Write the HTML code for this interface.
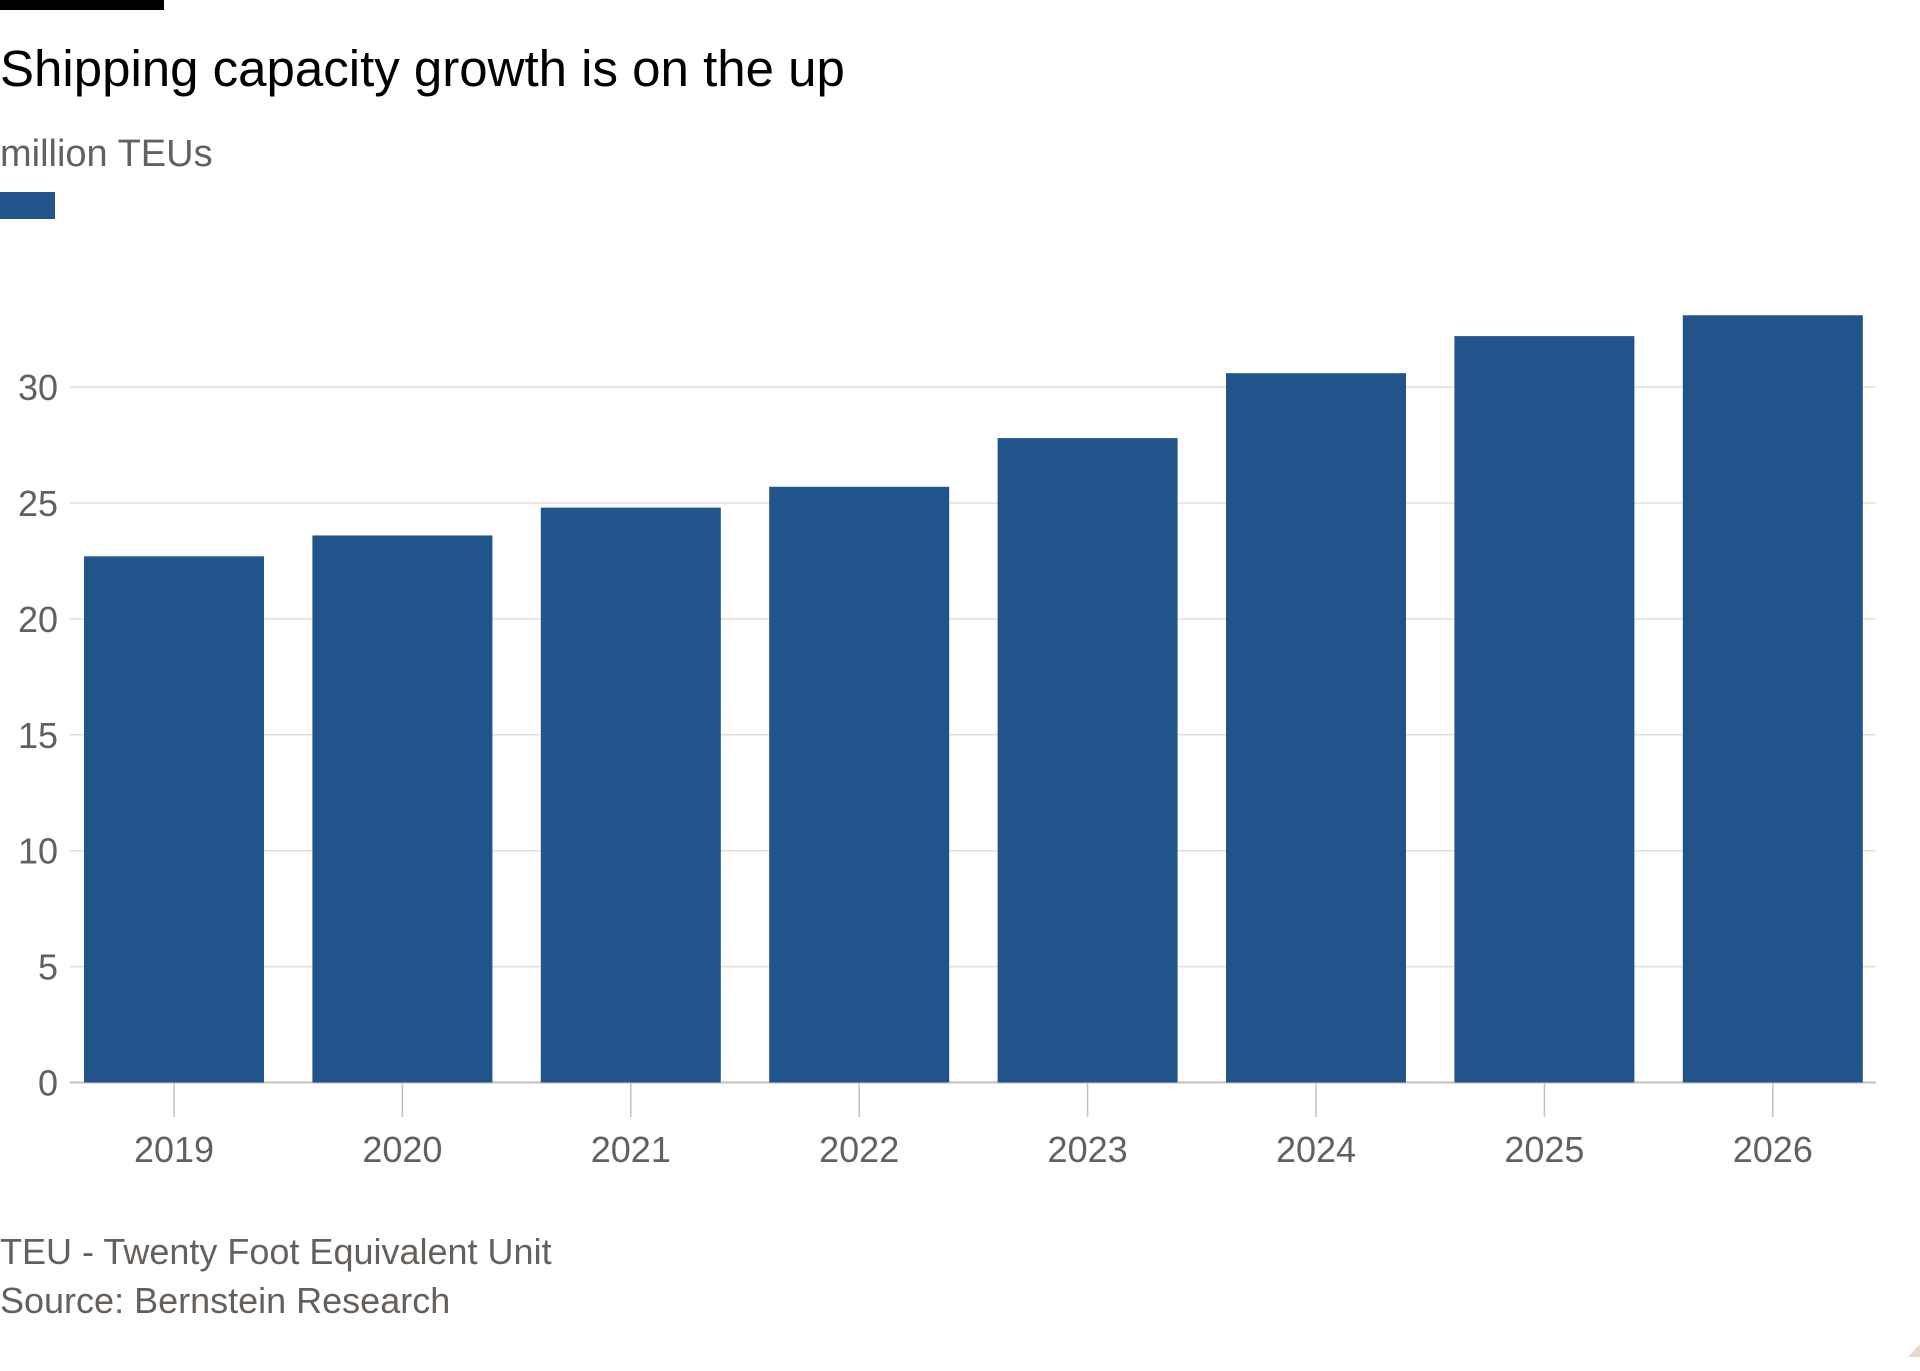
<!DOCTYPE html>
<html><head><meta charset="utf-8"><style>
html,body{margin:0;padding:0;background:#fff;width:1920px;height:1371px;overflow:hidden;font-family:"Liberation Sans",sans-serif}
</style></head><body>
<svg width="1920" height="1371" xmlns="http://www.w3.org/2000/svg">
<rect x="0" y="0" width="164" height="10" fill="#000"/>
<text x="0" y="86" font-size="51" fill="#000">Shipping capacity growth is on the up</text>
<text x="0" y="166" font-size="38" fill="#66605c">million TEUs</text>
<rect x="0" y="192" width="55" height="27" fill="#20548b"/>
<g id="grid"></g><g id="bars"></g><g id="axis"></g>
<text x="0" y="1264" font-size="36" fill="#66605c">TEU - Twenty Foot Equivalent Unit</text>
<text x="0" y="1313" font-size="36" fill="#66605c">Source: Bernstein Research</text>
<polygon points="1908,1357 1920,1344 1920,1357" fill="#e6d9ce"/>
</svg>
<script>
const categories=["2019","2020","2021","2022","2023","2024","2025","2026"];
const values=[22.7,23.6,24.8,25.7,27.8,30.6,32.2,33.1];
const yTicks=[0,5,10,15,20,25,30];
const NS="http://www.w3.org/2000/svg";
const y0=1082.5,pxPer=23.18,left=84,step=228.4,bw=180;
const y=v=>y0-v*pxPer;
const x=i=>left+i*step;
function mk(t,a){const e=document.createElementNS(NS,t);for(const k in a)e.setAttribute(k,a[k]);return e;}
const grid=document.getElementById('grid'),bars=document.getElementById('bars'),axis=document.getElementById('axis');
yTicks.forEach(t=>{
  const l=mk('line',{x1:70,x2:1876,y1:y(t),y2:y(t),stroke:t===0?'#c9bfb6':'#e9ddd3','stroke-width':t===0?2:1.5});
  
  
  grid.appendChild(l);
  const tx=mk('text',{x:58,y:y(t)+13,'font-size':36,fill:'#66605c','text-anchor':'end'});
  tx.textContent=t;
  
  
  axis.appendChild(tx);
});
categories.forEach((c,i)=>{
  const r=mk('rect',{x:x(i),y:y(values[i]),width:bw,height:y0-y(values[i]),fill:'#20548b'});
  
  
  bars.appendChild(r);
  const cx=x(i)+bw/2;
  const tk=mk('line',{x1:cx,x2:cx,y1:y0,y2:1117,stroke:'#c9bfb6','stroke-width':1.5});
  
  
  axis.appendChild(tk);
  const tx=mk('text',{x:cx,y:1162,'font-size':36,fill:'#66605c','text-anchor':'middle'});
  tx.textContent=c;
  
  
  axis.appendChild(tx);
});
</script>
</body></html>
